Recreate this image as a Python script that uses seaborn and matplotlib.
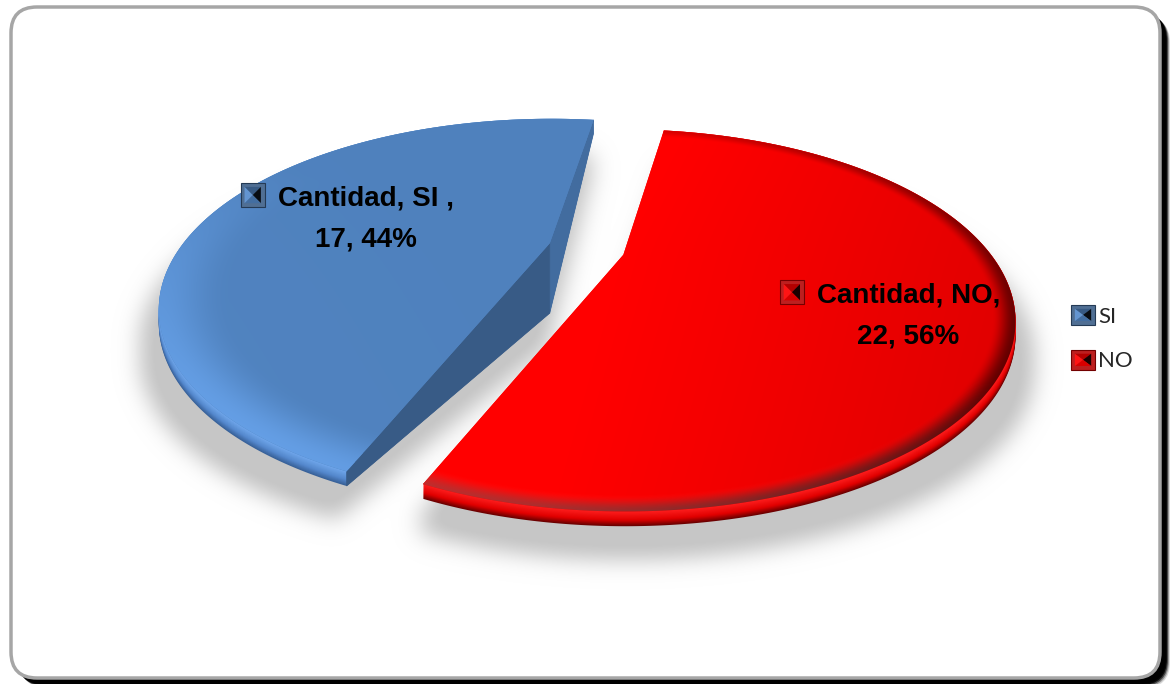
import numpy as np
import matplotlib
matplotlib.use("Agg")
import matplotlib.pyplot as plt
import seaborn as sns
from matplotlib.patches import Polygon, FancyBboxPatch, Patch
from matplotlib.path import Path
from matplotlib.legend_handler import HandlerBase
from matplotlib.colors import to_rgb

# ---- data -------------------------------------------------------------
categories = ["SI ", "NO"]
counts = [17, 22]
series_name = "Cantidad"
slice_colors = ["#4f81bd", "#ff0000"]

sns.set_theme(style="white")
plt.rcParams["font.family"] = ["Liberation Sans", "DejaVu Sans"]

W, H = 1176, 684
fig = plt.figure(figsize=(W / 100, H / 100), dpi=100)
fig.patch.set_facecolor("white")
ax = fig.add_axes([0, 0, 1, 1])
ax.axis("off")

# ---- view of the 3-D pie (pixel units) ----------------------------------
CX, CY = 586.5, 305.0      # centre of the rim plane
RX, RY = 391.0, 190.0      # projected radii
PERSP = 0.05               # mild perspective
CONE = 56.0                # height of the bevelled (conical) top at the centre
WALL = 14.0                # rim thickness
EXPLODE = 0.099
START = 83.5               # angle of the first slice edge (deg, ccw)
label_r = [0.58, 0.73]
label_turn = [-16.0, 11.0]


def project(u, v, z):
    u, v, z = np.asarray(u, float), np.asarray(v, float), np.asarray(z, float)
    w = 1.0 + PERSP * v
    return CX + RX * u / w, CY - (RY * v + z) / w


def smoothstep(a, b, x):
    t = np.clip((x - a) / (b - a), 0, 1)
    return t * t * (3 - 2 * t)


values = np.asarray(counts, float)
fracs = values / values.sum()
edges = START + 360.0 * np.concatenate([[0.0], np.cumsum(fracs)])


def slice_geom(i, n=260):
    t0, t1 = edges[i], edges[i + 1]
    mid = np.radians(0.5 * (t0 + t1))
    du, dv = EXPLODE * np.cos(mid), EXPLODE * np.sin(mid)
    th = np.linspace(t0, t1, n)
    return dict(t0=t0, t1=t1, du=du, dv=dv, th=th,
                u=du + np.cos(np.radians(th)), v=dv + np.sin(np.radians(th)))


def rim_xy(g, z):
    X, Y = project(g["u"], g["v"], z)
    return np.column_stack([X, Y])


def rim_pt(g, theta, z):
    t = np.radians(theta)
    X, Y = project(g["du"] + np.cos(t), g["dv"] + np.sin(t), z)
    return np.array([float(X), float(Y)])


def centre_xy(g, z):
    X, Y = project(g["du"], g["dv"], z)
    return np.array([float(X), float(Y)])


geoms = [slice_geom(i) for i in range(len(counts))]

# ---- chart frame ------------------------------------------------------
for off, al in [(10, 0.15), (9, 0.3), (8, 0.55), (7, 0.85), (6, 1.0)]:
    ax.add_patch(FancyBboxPatch((11 + off, 7 + off), 1149, 671,
                                boxstyle="round,pad=0,rounding_size=26",
                                fc="black", ec="none", alpha=al, zorder=0))
ax.add_patch(FancyBboxPatch((11, 7), 1149, 671,
                            boxstyle="round,pad=0,rounding_size=26",
                            fc="white", ec="#a6a6a6", lw=2.5, zorder=1))

# ---- soft drop shadow under the pie -------------------------------------
def gaussian_blur(img, sigma):
    pad = int(4 * sigma)
    p = np.pad(img, pad)
    fy = np.fft.fftfreq(p.shape[0])[:, None]
    fx = np.fft.rfftfreq(p.shape[1])[None, :]
    k = np.exp(-2 * (np.pi * sigma) ** 2 * (fx ** 2 + fy ** 2))
    out = np.fft.irfft2(np.fft.rfft2(p) * k, s=p.shape)
    return out[pad:-pad, pad:-pad]


gy, gx = np.mgrid[0:H, 0:W] + 0.5
pts = np.column_stack([gx.ravel(), gy.ravel()])
mask = np.zeros(H * W, bool)
for g in geoms:
    top = np.vstack([centre_xy(g, CONE), rim_xy(g, 0)])
    bot = np.vstack([centre_xy(g, -WALL), rim_xy(g, -WALL)])
    for poly in (top, bot):
        sp = poly.copy()
        sp[:, 0] = CX + (sp[:, 0] - CX) * 1.045
        sp[:, 1] += 34
        mask |= Path(sp).contains_points(pts)
shadow = np.clip(gaussian_blur(mask.reshape(H, W).astype(float), 11) * 1.1, 0, 1)
rgba = np.zeros((H, W, 4))
rgba[..., :3] = 0.78
rgba[..., 3] = shadow
ax.imshow(rgba, extent=(0, W, H, 0), origin="upper", zorder=2, interpolation="bilinear")

# ---- shading of the top faces -----------------------------------------
def shade_blue(s, th):
    base = np.array(to_rgb(slice_colors[0]))
    light = np.array([0.40, 0.63, 0.91])
    rimw = smoothstep(0.82, 1.0, s)
    dirw = np.clip(np.cos(np.radians(th - 225)), 0, 1)
    t = (rimw * dirw * 0.85 + 0.08 * np.clip(np.cos(np.radians(th - 200)), 0, 1) * s)[..., None]
    return base * (1 - t) + light * t


def shade_red(s, th):
    rimw = smoothstep(0.94, 1.0, s)
    dark = rimw * (0.5 + 0.5 * np.cos(np.radians(th - 330))) * 0.5
    dark += 0.12 * s * np.clip(np.cos(np.radians(th - 350)), 0, 1)
    hl = smoothstep(0.93, 1.0, s) * np.clip(np.cos(np.radians(th - 250)), 0, 1) * 0.18
    rgb = np.zeros(s.shape + (3,))
    rgb[..., 0] = 1 - dark
    rgb[..., 1] = hl
    rgb[..., 2] = hl
    return np.clip(rgb, 0, 1)


shaders = [shade_blue, shade_red]
# rim wall colour stops: (top edge, middle, bottom edge)
band_cols = [(np.array([0.44, 0.66, 0.93]), np.array([0.33, 0.53, 0.80]), np.array([0.22, 0.38, 0.60])),
             (np.array([1.00, 0.12, 0.12]), np.array([0.88, 0.0, 0.0]), np.array([0.42, 0.0, 0.0]))]


def band_colour(stops, f):
    top_c, mid_c, bot_c = stops
    if f < 0.6:
        t = f / 0.6
        return top_c * (1 - t) + mid_c * t
    t = (f - 0.6) / 0.4
    return mid_c * (1 - t) + bot_c * t


def face_rgb(apex, rim, th_deg, shade):
    allp = np.vstack([apex[None], rim])
    x0 = int(np.floor(allp[:, 0].min())) - 2
    x1 = int(np.ceil(allp[:, 0].max())) + 2
    y0 = int(np.floor(allp[:, 1].min())) - 2
    y1 = int(np.ceil(allp[:, 1].max())) + 2
    fx, fy = np.meshgrid(np.arange(x0, x1) + 0.5, np.arange(y0, y1) + 0.5)
    dx, dy = rim[:, 0] - apex[0], rim[:, 1] - apex[1]
    phi = np.unwrap(np.arctan2(dy, dx))
    d = np.hypot(dx, dy)
    th = th_deg.copy()
    if phi[-1] < phi[0]:
        phi, d, th = phi[::-1], d[::-1], th[::-1]
    pp = np.arctan2(fy - apex[1], fx - apex[0])
    pp = phi[0] + np.mod(pp - phi[0], 2 * np.pi)
    s = np.hypot(fx - apex[0], fy - apex[1]) / np.interp(pp, phi, d)
    tt = np.interp(pp, phi, th)
    return shade(np.clip(s, 0, 1.2), tt), (x0, x1, y1, y0)


# ---- slices ------------------------------------------------------------
z = 3
for i, g in enumerate(geoms):
    base = np.array(to_rgb(slice_colors[i]))
    # rim wall, built up from the bottom edge
    for k in np.linspace(WALL, 0, 15):
        col = band_colour(band_cols[i], k / WALL)
        poly = np.vstack([centre_xy(g, -k), rim_xy(g, -k)])
        ax.add_patch(Polygon(poly, closed=True, fc=col, ec="none", zorder=z))
    # radial cut faces that turn towards the viewer
    for theta, normal in [(g["t0"], g["t0"] - 90), (g["t1"], g["t1"] + 90)]:
        sn = np.sin(np.radians(normal))
        if sn < 0:
            fac = 0.88 + 0.35 * sn
            quad = np.array([centre_xy(g, CONE), rim_pt(g, theta, 0),
                             rim_pt(g, theta, -WALL), centre_xy(g, -WALL)])
            ax.add_patch(Polygon(quad, closed=True, fc=base * fac, ec=base * fac,
                                 lw=0.5, zorder=z + 0.1))
    # top face
    apex = centre_xy(g, CONE)
    rim = rim_xy(g, 0)
    top = Polygon(np.vstack([apex, rim]), closed=True, fc=base, ec="none", zorder=z + 0.2)
    ax.add_patch(top)
    img, ext = face_rgb(apex, rim, g["th"], shaders[i])
    im = ax.imshow(img, extent=ext, origin="upper", zorder=z + 0.3, interpolation="bilinear")
    im.set_clip_path(top)
    z += 1


# ---- legend keys with a pyramid bevel ------------------------------------
def pyramid(x0, x1, ytop, ybot, base, transform, zorder=None):
    base = np.array(base)
    size = abs(x1 - x0)
    m = 0.16 * size
    sgn = 1 if ybot > ytop else -1
    tl = (x0 + m, ytop + sgn * m)
    tr = (x1 - m, ytop + sgn * m)
    br = (x1 - m, ybot - sgn * m)
    bl = (x0 + m, ybot - sgn * m)
    c = (0.5 * (x0 + x1), 0.5 * (ytop + ybot))
    kw = dict(closed=True, transform=transform, lw=0)
    if zorder is not None:
        kw["zorder"] = zorder
    frame = np.clip(base * 0.62 + 0.12, 0, 1)
    arts = [Polygon([(x0, ytop), (x1, ytop), (x1, ybot), (x0, ybot)], fc=frame, ec=base * 0.45,
                    **{**kw, "lw": 0.8})]
    arts.append(Polygon([tl, tr, c], fc=base * 0.70, **kw))
    arts.append(Polygon([tr, br, c], fc=base * 0.10, **kw))
    arts.append(Polygon([br, bl, c], fc=base * 0.85, **kw))
    arts.append(Polygon([bl, tl, c], fc=np.clip(base * 1.0 + 0.08, 0, 1), **kw))
    return arts


class PyramidKey(HandlerBase):
    def create_artists(self, legend, orig_handle, xdescent, ydescent,
                       width, height, fontsize, trans):
        base = to_rgb(orig_handle.get_facecolor())
        x0, y0 = -xdescent, -ydescent
        return pyramid(x0, x0 + width, y0 + height, y0, base, trans)


# ---- data labels ---------------------------------------------------------
ax.set_xlim(0, W)
ax.set_ylim(H, 0)
renderer = fig.canvas.get_renderer()
for i, g in enumerate(geoms):
    th = np.radians(0.5 * (g["t0"] + g["t1"]) + label_turn[i])
    r = label_r[i]
    lx, ly = project(g["du"] + r * np.cos(th), g["dv"] + r * np.sin(th), CONE * (1 - r))
    lx, ly = float(lx), float(ly)
    pct = int(round(100 * fracs[i]))
    t1 = ax.text(lx, ly - 10.5, f"{series_name}, {categories[i]},", ha="center", va="baseline",
                 fontsize=20, fontweight="bold", color="black", zorder=20)
    ax.text(lx, ly + 30.5, f"{counts[i]}, {pct}%", ha="center", va="baseline",
            fontsize=20, fontweight="bold", color="black", zorder=20)
    bb = t1.get_window_extent(renderer)
    kx1 = bb.x0 - 13
    kyc = ly - 10.5 - 10
    for a in pyramid(kx1 - 24, kx1, kyc - 12, kyc + 12, to_rgb(slice_colors[i]),
                     ax.transData, zorder=19):
        ax.add_patch(a)

# ---- legend -----------------------------------------------------------
handles = [Patch(facecolor=c) for c in slice_colors]
ax.legend(handles, [c.strip() for c in categories], handler_map={Patch: PyramidKey()},
          loc="upper left", bbox_to_anchor=(1071 / W, 1 - 305 / H), frameon=False,
          handlelength=1.08, handleheight=1.0, handletextpad=0.15, labelspacing=1.05,
          borderpad=0, borderaxespad=0,
          prop=dict(family=["Lato", "DejaVu Sans"], size=16))

ax.set_xlim(0, W)
ax.set_ylim(H, 0)
ax.set_aspect("auto")
fig.savefig("out.png", dpi=100, facecolor="white")
